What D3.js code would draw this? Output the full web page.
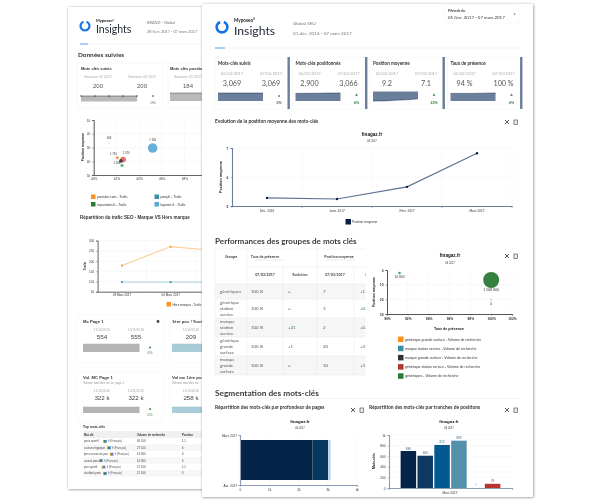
<!DOCTYPE html>
<html>
<head>
<meta charset="utf-8">
<title>Myposeo Insights</title>
<style>
    html, body { margin: 0; padding: 0; background: #fff; }
    svg { display: block; filter: blur(0.4px); }
    text { font-family: "Liberation Sans", sans-serif; fill: #333; }
</style>
</head>
<body>
<svg width="600" height="500"></svg>
<script src="https://d3js.org/d3.v7.min.js"></script>
<script>
// front page - kpi cards
const kpiTitles = ['Mots-clés suivis', 'Mots-clés positionnés', 'Position moyenne', 'Taux de présence'];
const kpiDates = ['05/02/2017', '07/03/2017'];
const kpiFirst = ['3,069', '2,900', '9.2', '94 %'];
const kpiLast = ['3,069', '3,066', '7.1', '100 %'];
const kpiDelta = ['0%', '6%', '23%', '6%'];
const kpiSpark = [
    [3069, 3069, 3069, 3069, 3069],
    [2900, 2930, 2980, 3040, 3066],
    [9.2, 9.1, 8.4, 8.0, 7.1],
    [94, 95, 95, 98, 100]
];
// front page - average position line
const lineMonths = ['Déc. 2016', 'Janv. 2017', 'Févr. 2017', 'Mars 2017'];
const linePosition = [5.28, 5.24, 5.66, 6.82];
const lineTicks = [5, 6, 7];
// front page - groups table
const groupNames = [['génériques'], ['générique', 'station', 'service'], ['marque', 'station', 'service'], ['générique', 'grande', 'surface'], ['marque', 'grande', 'surface']];
const groupPresence = ['100 %', '100 %', '100 %', '100 %', '100 %'];
const groupEvolution = ['=', '=', '+21', '+1', '='];
const groupPosition = ['7', '3', '2', '20', '10'];
const groupPosEvolution = ['+1.2', '+0.5', '+0.3', '+2.1', '+3.4'];
// front page - group bubbles
const bubbleNames = ['générique grande surface - Volume de recherche', 'marque station service - Volume de recherche', 'marque grande surface - Volume de recherche', 'générique station service - Volume de recherche', 'génériques - Volume de recherche'];
const bubbleColors = ['#f7931e', '#3d8fa6', '#333333', '#b5342f', '#2b7a37'];
const bubblePresence = [100, 91.2, 100, 100, 100];
const bubblePosition = [20.4, 2, 7, 7, 6.8];
const bubbleVolume = [0, 10800, 0, 0, 1568800];
const bubbleLabels = ['0', '10 800', '', '', '1 568 800'];
// front page - segmentation
const depthValues = [2480, 530, 90];
const depthColors = ['#06244a', '#07385f', '#b8d8ea'];
const depthTicks = [0, 1000, 2000, 3000, 4000];
const depthTickLabels = ['0', '1k', '2k', '3k', '4k'];
const depthPeriods = ['Mars 2017', 'Avr. 2017'];
const rankNames = ['1', '2-3', '4-5', '6-10', '11-20', '21+'];
const rankValues = [698, 609, 812, 893, 3, 79];
const rankColors = ['#06244a', '#0d3a63', '#03598f', '#5390ac', '#cfdfe9', '#b5342f'];
const rankTicks = [0, 200, 400, 600, 800, 1000];
const rankTickLabels = ['0', '200', '400', '600', '800', '1k'];
// back page - tracked data
const backDates = ['Semaine 05 2017', 'Semaine 09 2017'];
const backKeywords = [200, 200, 200, 200, 200];
const backPositioned = [184, 186, 185, 186, 186];
const backX = [40, 42, 44, 46, 48, 50];
const backY = [10, 20, 30, 40, 50];
const sitePresence = [45.2, 42.6, 42.1, 42.5, 42.4, 41.35];
const sitePosition = [30.4, 38.7, 37.5, 43, 39.8, 27];
const siteTraffic = [7484, 2070, 300, 420, 700, 60];
const siteColors = ['#5aa7d2', '#ee5a5a', '#f7931e', '#4fb06a', '#333333', '#f4e7a8'];
const siteLabels = ['7 484', '2 070', '1 730', '', '1 006', '608'];
const backLegend = ['youtube.com - Trafic', 'jamy.fr - Trafic', 'reparation.fr - Trafic', 'laposte.fr - Trafic'];
const backLegendColors = ['#f7931e', '#3d8fa6', '#2b7a37', '#5aa7d2'];
const trafficDays = ['03 Mars 2017', '04 Mars 2017', '05 Mars 2017'];
const trafficHors = [178, 270, 250];
const trafficMarque = [97, 97, 97];
const trafficTicks = [50, 100, 150, 200, 250, 300];
// back page - top keywords
const topWords = ['paris sportif', 'courses hippique', 'pmu course du jour', 'course pmu', 'pari sportif', 'résultats pmu'];
const topVolumes = ['90 100', '27 100', '14 800', '14 800', '12 100', '12 100'];
const topPositions = ['1.1', '6', '6', '6', '1.1', '6'];

const svg = d3.select('svg');
const defs = svg.append('defs');
const shadow = defs.append('filter').attr('id', 'page').attr('x', '-5%').attr('y', '-5%').attr('width', '110%').attr('height', '110%');
shadow.append('feDropShadow').attr('dx', 0.5).attr('dy', 0.5).attr('stdDeviation', 1.2).attr('flood-color', '#444').attr('flood-opacity', 0.65);

function txt(g, x, y, s, size, o) {
    o = o || {};
    return g.append('text').attr('x', x).attr('y', y).text(s)
        .attr('font-size', size)
        .attr('font-weight', o.w || 400)
        .attr('text-anchor', o.a || 'start')
        .style('fill', o.c || '#333')
        .style('font-family', o.f || null);
}
function box(g, x, y, w, h, fill, stroke) {
    return g.append('rect').attr('x', x).attr('y', y).attr('width', w).attr('height', h)
        .attr('fill', fill).attr('stroke', stroke || 'none').attr('stroke-width', 0.5);
}
function logo(g, cx, cy, r) {
    const arc = d3.arc().innerRadius(r * 0.68).outerRadius(r * 1.12);
    g.append('path').attr('transform', `translate(${cx},${cy})`)
        .attr('d', arc({ startAngle: 0.35, endAngle: 2 * Math.PI - 0.35 })).attr('fill', '#1273e6');
}
function icons(g, x, y) {
    g.append('path').attr('d', `M${x - 2},${y - 2}L${x + 2},${y + 2}M${x + 2},${y - 2}L${x - 2},${y + 2}`)
        .attr('stroke', '#444').attr('stroke-width', 0.9);
    g.append('rect').attr('x', x + 7).attr('y', y - 2).attr('width', 3.4).attr('height', 4.4)
        .attr('fill', '#eee').attr('stroke', '#555').attr('stroke-width', 0.7);
}
function spark(g, values, x0, x1, top, bottom, invert, fill, line) {
    const x = d3.scaleLinear().domain([0, values.length - 1]).range([x0, x1]);
    const y = d3.scaleLinear().domain([0, d3.max(values)]).range(invert ? [top, bottom] : [bottom, top]);
    const area = d3.area().x((d, i) => x(i)).y0(y(0)).y1(d => y(d));
    g.append('path').attr('d', area(values)).attr('fill', fill);
    g.append('path').attr('d', d3.line().x((d, i) => x(i)).y(d => y(d))(values))
        .attr('fill', 'none').attr('stroke', line).attr('stroke-width', 0.5);
    return { x, y };
}
function styleAxis(g, size, color, weight, lineWidth) {
    g.attr('class', 'axis');
    g.selectAll('text').attr('font-size', size).style('fill', '#333').attr('font-weight', weight || 400);
    g.selectAll('path').attr('stroke', color).attr('stroke-width', lineWidth || 1);
    g.selectAll('line').attr('stroke', color).attr('stroke-width', 0.5);
}
function grid(g, xs, ys, x0, x1, y0, y1) {
    xs.forEach(x => g.append('line').attr('x1', x).attr('x2', x).attr('y1', y0).attr('y2', y1).attr('stroke', '#eef0f3').attr('stroke-width', 0.5));
    ys.forEach(y => g.append('line').attr('y1', y).attr('y2', y).attr('x1', x0).attr('x2', x1).attr('stroke', '#eef0f3').attr('stroke-width', 0.5));
}

// ---------- back page ----------
const back = svg.append('g').attr('class', 'back');
box(back, 68, 7, 170, 482, '#fff').attr('filter', 'url(#page)');
logo(back, 85, 26, 5);
txt(back, 96, 22, 'Myposeo°', 4, { w: 700, f: 'Lato', c: '#222' });
txt(back, 96, 33, 'Insights', 10.5, { f: 'Lato', c: '#1c2430' });
txt(back, 147, 24, 'BRAND - Global', 3.9, { c: '#777', f: 'Lato' });
txt(back, 147, 33, '28 févr. 2017 - 07 mars 2017', 3.9, { c: '#777', f: 'Lato' });
back.append('line').attr('x1', 80).attr('x2', 205).attr('y1', 44).attr('y2', 44).attr('stroke', '#eee').attr('stroke-width', 0.7);
back.append('line').attr('x1', 80).attr('x2', 88).attr('y1', 44).attr('y2', 44).attr('stroke', '#5fa0ee').attr('stroke-width', 1);
txt(back, 78, 57, 'Données suivies', 6.4, { w: 700, f: 'Lato', c: '#333' });

box(back, 77, 63, 86, 45, '#fff', '#f0f0f0');
box(back, 168, 63, 40, 45, '#fff', '#f0f0f0');
txt(back, 81, 70, 'Mots clés suivis', 4, { w: 700 });
txt(back, 170, 70, 'Mots clés positionnés', 4, { w: 700 });
txt(back, 98, 78, backDates[0], 3.6, { a: 'middle', c: '#aaa' });
txt(back, 142, 78, backDates[1], 3.6, { a: 'middle', c: '#aaa' });
txt(back, 188, 78, backDates[0], 3.6, { a: 'middle', c: '#aaa' });
txt(back, 98, 88, '200', 6, { a: 'middle', c: '#555' });
txt(back, 142, 88, '200', 6, { a: 'middle', c: '#555' });
txt(back, 188, 88, '184', 6, { a: 'middle', c: '#555' });
const bk1 = spark(back, backKeywords, 81, 137, 96, 101.5, false, '#b9b9b9', '#333');
back.selectAll('.d1').data(backKeywords).enter().append('circle')
    .attr('cx', (d, i) => bk1.x(i)).attr('cy', d => bk1.y(d)).attr('r', 0.7).attr('fill', '#333');
spark(back, backPositioned, 170, 228, 93, 101, false, '#b9b9b9', '#444');
txt(back, 153, 97, '=', 3.6, { a: 'middle', w: 700 });
txt(back, 153, 104, '0%', 3.6, { a: 'middle', c: '#555' });

// site bubbles
const sx = d3.scaleLinear().domain([40, 50]).range([93.7, 207]);
const sy = d3.scaleLinear().domain([10, 50]).range([120, 175]);
const sr = d3.scaleSqrt().domain([0, 7484]).range([0.6, 4.8]);
grid(back, backX.map(sx), backY.map(sy), 93.7, 207, 120, 175);
const sax = back.append('g').attr('transform', 'translate(0,175)')
    .call(d3.axisBottom(sx).tickValues(backX).tickFormat(d => d + '%').tickSize(0).tickPadding(2.5));
styleAxis(sax, 3.2, '#666');
const say = back.append('g').attr('transform', 'translate(93.7,0)')
    .call(d3.axisLeft(sy).tickValues(backY).tickSize(1.5).tickPadding(2));
styleAxis(say, 3.2, '#555');
txt(back, 0, 0, 'Position moyenne', 3.3, { a: 'middle', w: 700 }).attr('transform', 'translate(83.5,147) rotate(-90)');
back.selectAll('.site').data(siteTraffic).enter().append('circle')
    .attr('cx', (d, i) => sx(sitePresence[i])).attr('cy', (d, i) => sy(sitePosition[i]))
    .attr('r', d => sr(d)).attr('fill', (d, i) => siteColors[i]).attr('opacity', 0.9);
siteLabels.forEach((s, i) => {
    const off = [-7, -5, -3, 0, 3, -4][i];
    const dx = [0, 3, -4, 0, -4, 0][i];
    txt(back, sx(sitePresence[i]) + dx, sy(sitePosition[i]) + off, s, 2.8, { a: 'middle', c: '#444' });
});
backLegend.forEach((s, i) => {
    const lx = i % 2 ? 154.5 : 91;
    const ly = i < 2 ? 194.5 : 202;
    box(back, lx, ly, 4.5, 4.5, backLegendColors[i]);
    txt(back, lx + 6, ly + 3.6, s, 3.4, { c: '#333' });
});
txt(back, 80, 219, 'Répartition du trafic SEO - Marque VS Hors marque', 4.5, { w: 700, c: '#333' });

// traffic lines
const tx = d3.scaleBand().domain(trafficDays).range([97.6, 243.7]);
const ty = d3.scaleLinear().domain([50, 300]).range([291.7, 240.6]);
grid(back, [tx.step() + 97.6, 2 * tx.step() + 97.6], trafficTicks.map(ty), 97.6, 238, 240.6, 291.7);
const tax = back.append('g').attr('transform', 'translate(0,291.7)').call(d3.axisBottom(tx).tickSize(0).tickPadding(2.5));
styleAxis(tax, 3, '#666');
const tay = back.append('g').attr('transform', 'translate(97.6,0)')
    .call(d3.axisLeft(ty).tickValues(trafficTicks).tickSize(1.5).tickPadding(2));
styleAxis(tay, 3, '#666');
txt(back, 0, 0, 'Trafic', 3.3, { a: 'middle', w: 700 }).attr('transform', 'translate(85.5,266) rotate(-90)');
[[trafficHors, '#fbd3a0', '#f7931e'], [trafficMarque, '#bcd8e0', '#3d8fa6']].forEach(s => {
    const ln = d3.line().x((d, i) => tx(trafficDays[i]) + tx.bandwidth() / 2).y(d => ty(d));
    back.append('path').attr('d', ln(s[0])).attr('fill', 'none').attr('stroke', s[1]).attr('stroke-width', 1.2);
    s[0].forEach((d, i) => box(back, tx(trafficDays[i]) + tx.bandwidth() / 2 - 0.9, ty(d) - 0.9, 1.8, 1.8, s[2]));
});
box(back, 166.5, 302, 4.5, 4.5, '#f7931e');
txt(back, 172.5, 305.6, 'Hors marque - Trafic', 3.2);

// lower cards
box(back, 77, 315, 86, 48, '#fff', '#f3f3f3');
box(back, 170, 315, 40, 48, '#fff', '#f3f3f3');
box(back, 77, 372, 86, 51, '#fff', '#f3f3f3');
box(back, 170, 372, 40, 51, '#fff', '#f3f3f3');
txt(back, 83, 323, 'Mc Page 1', 4.2, { w: 700 });
back.append('circle').attr('cx', 158).attr('cy', 321.5).attr('r', 1.4).attr('fill', '#444');
txt(back, 172, 323, '1ère pos ! Yooth', 4.2, { w: 700 });
txt(back, 102, 331, '11/10/2016', 3.3, { a: 'middle', c: '#aaa' });
txt(back, 136, 331, '10/11/2016', 3.3, { a: 'middle', c: '#aaa' });
txt(back, 191, 331, '11/10/2016', 3.3, { a: 'middle', c: '#aaa' });
txt(back, 102, 339, '554', 6.2, { a: 'middle', c: '#444' });
txt(back, 136, 339, '555', 6.2, { a: 'middle', c: '#444' });
txt(back, 191, 339, '209', 6.2, { a: 'middle', c: '#444' });
spark(back, [554, 555], 83, 139.5, 344, 352, false, '#b4b4b4', '#aaa');
spark(back, [209, 209], 172, 228, 344, 352, false, '#a8ccd8', '#9bc0cd');
back.append('path').attr('d', d3.symbol(d3.symbolTriangle, 3)()).attr('transform', 'translate(150,347.5)').attr('fill', '#2b7a37');
txt(back, 150, 354, '0%', 3.3, { a: 'middle', c: '#2b7a37' });
txt(back, 83, 379, 'Vol. MC Page 1', 4.2, { w: 700 });
txt(back, 83, 384, 'Volume total des mc en page 1', 3, { c: '#999' });
txt(back, 172, 379, 'Vol mc 1ère pos', 4.2, { w: 700 });
txt(back, 172, 384, 'Volume total des mc', 3, { c: '#999' });
txt(back, 102, 392, '11/10/2016', 3.3, { a: 'middle', c: '#aaa' });
txt(back, 136, 392, '10/11/2016', 3.3, { a: 'middle', c: '#aaa' });
txt(back, 191, 392, '11/10/2016', 3.3, { a: 'middle', c: '#aaa' });
txt(back, 102, 400, '322 k', 6.2, { a: 'middle', c: '#444' });
txt(back, 136, 400, '322 k', 6.2, { a: 'middle', c: '#444' });
txt(back, 191, 400, '258 k', 6.2, { a: 'middle', c: '#444' });
spark(back, [322, 322], 83, 139.5, 407, 413, false, '#b4b4b4', '#aaa');
spark(back, [258, 258], 172, 228, 407, 413, false, '#a8ccd8', '#9bc0cd');
back.append('path').attr('d', d3.symbol(d3.symbolTriangle, 3)()).attr('transform', 'translate(150,409)').attr('fill', '#2b7a37');
txt(back, 150, 415.5, '0%', 3.3, { a: 'middle', c: '#2b7a37' });

// top keywords
txt(back, 83, 428, 'Top mots-clés', 3.3, { w: 700 });
box(back, 83, 431, 122, 7, '#f0f0f0');
txt(back, 84, 436, 'Mot clé', 2.8, { w: 700 });
txt(back, 137, 436, 'Volume de recherche', 2.8, { w: 700 });
txt(back, 182, 436, 'Position', 2.8, { w: 700 });
const topY = d3.scaleBand().domain(topWords).range([438, 476.5]);
topWords.forEach((s, i) => {
    const y = topY(s);
    if (i % 2) box(back, 83, y, 122, topY.bandwidth(), '#f6f6f6');
    txt(back, 84, y + 4.4, s, 2.8, { c: '#444' });
    const w = s.length * 1.35 + 85.5;
    ['#f7931e', '#2b7a37', '#b5342f', '#1273e6'].forEach((c, k) => box(back, w + k * 0.9, y + 2, 0.9, 2.8, c));
    txt(back, w + 5, y + 4.4, 'fr (Français)', 2.6, { c: '#555' });
    txt(back, 137, y + 4.4, topVolumes[i], 2.8, { c: '#444' });
    txt(back, 182, y + 4.4, topPositions[i], 2.8, { c: '#444' });
});

// ---------- front page ----------
const front = svg.append('g').attr('class', 'front');
box(front, 202, 4, 331, 493, '#fff').attr('filter', 'url(#page)');
logo(front, 222, 27, 6);
txt(front, 234, 22, 'Myposeo°', 4.6, { w: 700, f: 'Lato', c: '#222' });
txt(front, 234, 35, 'Insights', 12.2, { f: 'Lato', c: '#1c2430' });
txt(front, 293, 24.5, 'Global SEO', 4.6, { f: 'Lato', c: '#777' });
txt(front, 293, 35, '01 déc. 2016 - 07 mars 2017', 4.6, { f: 'Lato', c: '#777' });
box(front, 445, 5, 74, 18, '#fff', '#f2f2f2');
txt(front, 448, 12, 'Période du', 3.6, { w: 700, f: 'Lato', c: '#444' });
txt(front, 448, 18.5, '05 févr. 2017 - 07 mars 2017', 4.4, { f: 'Lato', c: '#333' });
front.append('path').attr('d', d3.symbol(d3.symbolTriangle, 2)()).attr('transform', 'translate(514.5,14) rotate(180)').attr('fill', '#666');
front.append('line').attr('x1', 215).attr('x2', 520).attr('y1', 48).attr('y2', 48).attr('stroke', '#eee').attr('stroke-width', 0.7);
front.append('line').attr('x1', 215).attr('x2', 225).attr('y1', 48).attr('y2', 48).attr('stroke', '#5fa0ee').attr('stroke-width', 1);

const cardX = d3.scaleBand().domain(kpiTitles).range([215, 523.5]).paddingInner(0.02);
kpiTitles.forEach((t, i) => {
    const x = cardX(t);
    box(front, x, 57, 72.5, 52, '#fff', '#f2f2f2');
    box(front, x + 72.5, 57, 2.4, 52, '#6b7f9c');
    txt(front, x + 3, 65, t, 4.6, { w: 700, f: 'Lato', c: '#333' });
    txt(front, x + 17, 74.5, kpiDates[0], 4, { a: 'middle', f: 'Lato', c: '#aaa' });
    txt(front, x + 56, 74.5, kpiDates[1], 4, { a: 'middle', f: 'Lato', c: '#aaa' });
    txt(front, x + 17, 85.5, kpiFirst[i], 7.2, { a: 'middle', f: 'Lato', c: '#555' });
    txt(front, x + 56, 85.5, kpiLast[i], 7.2, { a: 'middle', f: 'Lato', c: '#555' });
    spark(front, kpiSpark[i], x + 3, x + 48, i === 2 ? 91.5 : 93, 101, i === 2, '#6b7f9c', '#1d2f4d');
    const good = i > 0;
    if (good) front.append('path').attr('d', d3.symbol(d3.symbolTriangle, 3)()).attr('transform', `translate(${x + 64},95)`).attr('fill', '#2b7a37');
    else txt(front, x + 64, 96.5, '=', 3.8, { a: 'middle', w: 700 });
    txt(front, x + 64, 104, kpiDelta[i], 3.6, { a: 'middle', w: 700, c: good ? '#2b7a37' : '#555' });
});

// average position line
txt(front, 215, 123, 'Evolution de la position moyenne des mots-clés', 4.9, { w: 700, f: 'Lato', c: '#333' });
icons(front, 507, 122);
txt(front, 372, 136, 'finagaz.fr', 4.6, { a: 'middle', w: 700, c: '#111' });
txt(front, 372, 142, '06 2017', 2.6, { a: 'middle', c: '#333' });
const lx = d3.scaleBand().domain(lineMonths).range([232, 512]);
const ly = d3.scaleLinear().domain([5, 7]).range([206, 148]);
const lineEdges = d3.range(lineMonths.length + 1).map(i => 232 + i * lx.step());
grid(front, lineEdges.slice(1), lineTicks.map(ly), 232, 512, 148, 206);
const lax = front.append('g').attr('transform', 'translate(0,206)').call(d3.axisBottom(lx).tickSize(0).tickPadding(3.5));
styleAxis(lax, 3.2, '#6b7f9c', 400, 1.1);
lineEdges.forEach(x => front.append('line').attr('x1', x).attr('x2', x).attr('y1', 206).attr('y2', 208).attr('stroke', '#6b7f9c').attr('stroke-width', 0.6));
const lay = front.append('g').attr('transform', 'translate(232,0)').call(d3.axisLeft(ly).tickValues(lineTicks).tickSize(1.5).tickPadding(2).tickFormat(d3.format('d')));
styleAxis(lay, 3.4, '#6b7f9c', 700, 1.1);
txt(front, 0, 0, 'Position moyenne', 3.7, { a: 'middle', w: 700, c: '#222' }).attr('transform', 'translate(222,177) rotate(-90)');
const posLine = d3.line().x((d, i) => lx(lineMonths[i]) + lx.bandwidth() / 2).y(d => ly(d));
front.append('path').attr('d', posLine(linePosition)).attr('fill', 'none').attr('stroke', '#5d7393').attr('stroke-width', 1.1);
front.selectAll('.lp').data(linePosition).enter().append('circle')
    .attr('cx', (d, i) => lx(lineMonths[i]) + lx.bandwidth() / 2).attr('cy', d => ly(d)).attr('r', 1.2).attr('fill', '#0b1f44');
box(front, 345.5, 219, 5.5, 5.5, '#0b1f44');
txt(front, 352, 223, 'Position moyenne', 3.2, { c: '#333' });

// groups table
txt(front, 215, 244, 'Performances des groupes de mots clés', 8.1, { w: 700, f: 'Lato', c: '#3a3a3a' });
defs.append('clipPath').attr('id', 'tableClip').append('rect').attr('x', 214).attr('y', 245).attr('width', 151.5).attr('height', 135);
const table = front.append('g').attr('clip-path', 'url(#tableClip)');
const colX = [215, 247, 283, 317, 354, 390];
const rowY = [284, 299, 318, 337, 356, 375];
groupNames.forEach((n, i) => {
    if (i % 2 === 0) box(table, 215, rowY[i], 180, rowY[i + 1] - rowY[i], '#f6f6f6');
    const mid = (rowY[i] + rowY[i + 1]) / 2;
    n.forEach((s, k) => txt(table, 220, mid + 1.5 + (k - (n.length - 1) / 2) * 6.1, s, 4.4, { c: '#555', f: 'Lato' }));
    txt(table, 251, mid + 1.5, groupPresence[i], 4.4, { c: '#555', f: 'Lato' });
    txt(table, 288, mid + 1.5, groupEvolution[i], 4.4, { c: groupEvolution[i] === '=' ? '#555' : '#2b7a37', f: 'Lato' });
    txt(table, 323, mid + 1.5, groupPosition[i], 4.4, { c: '#555', f: 'Lato' });
    txt(table, 360, mid + 1.5, groupPosEvolution[i], 4.4, { c: '#2b7a37', f: 'Lato' });
});
[249, 267, 284].concat(rowY.slice(1)).forEach(y => table.append('line').attr('x1', y === 267 ? 247 : 215).attr('x2', 395).attr('y1', y).attr('y2', y).attr('stroke', '#ececec').attr('stroke-width', 0.6));
colX.slice(0, 5).forEach((x, i) => table.append('line').attr('x1', x).attr('x2', x).attr('y1', (i === 2 || i === 4) ? 267 : 249).attr('y2', 375).attr('stroke', '#ececec').attr('stroke-width', 0.6));
txt(table, 231, 258, 'Groupe', 3.7, { a: 'middle', w: 700, c: '#444', f: 'Lato' });
txt(table, 265, 258, 'Taux de présence', 3.7, { a: 'middle', w: 700, c: '#444', f: 'Lato' });
table.append('line').attr('x1', 255).attr('x2', 285).attr('y1', 260).attr('y2', 260).attr('stroke', '#ccc').attr('stroke-width', 0.4);
txt(table, 339, 258, 'Position moyenne', 3.7, { a: 'middle', w: 700, c: '#444', f: 'Lato' });
table.append('line').attr('x1', 325).attr('x2', 355).attr('y1', 260).attr('y2', 260).attr('stroke', '#ccc').attr('stroke-width', 0.4);
txt(table, 265, 275.5, '07/03/2017', 3.5, { a: 'middle', w: 700, c: '#444', f: 'Lato' });
txt(table, 300, 275.5, 'Evolution', 3.5, { a: 'middle', w: 700, c: '#444', f: 'Lato' });
txt(table, 335, 275.5, '07/03/2017', 3.5, { a: 'middle', w: 700, c: '#444', f: 'Lato' });
txt(table, 365, 275.5, 'Evolution', 3.5, { w: 700, c: '#444', f: 'Lato' });

// group bubbles
txt(front, 450, 257, 'finagaz.fr', 4.6, { a: 'middle', w: 700, c: '#111' });
txt(front, 450, 263.5, '06 2017', 2.6, { a: 'middle', c: '#333' });
icons(front, 507, 256);
const bx = d3.scaleLinear().domain([90, 102]).range([387, 512]);
const by = d3.scaleLinear().domain([0, 30]).range([270, 314]);
const br = d3.scaleSqrt().domain([0, 1568800]).range([0.7, 8]);
grid(front, d3.range(92, 103, 2).map(bx), [10, 20].map(by), 387, 512, 270, 314);
const bax = front.append('g').attr('transform', 'translate(0,314)')
    .call(d3.axisBottom(bx).tickValues(d3.range(90, 103, 2)).tickFormat(d => d + '%').tickSize(1.5).tickPadding(2.5));
styleAxis(bax, 3.3, '#555', 700);
const bay = front.append('g').attr('transform', 'translate(387,0)')
    .call(d3.axisLeft(by).tickValues([0, 10, 20, 30]).tickSize(1.5).tickPadding(2));
styleAxis(bay, 3.3, '#555', 700);
txt(front, 0, 0, 'Position moyenne', 3.5, { a: 'middle', w: 700, c: '#222' }).attr('transform', 'translate(375,292) rotate(-90)');
txt(front, 449, 330, 'Taux de présence', 3.6, { a: 'middle', w: 700, c: '#222' });
[0, 1, 4].forEach(i => {
    front.append('circle').attr('cx', bx(bubblePresence[i])).attr('cy', by(bubblePosition[i]))
        .attr('r', br(bubbleVolume[i])).attr('fill', bubbleColors[i]).attr('opacity', 0.95);
});
txt(front, bx(bubblePresence[0]), by(bubblePosition[0]) + 4.8, bubbleLabels[0], 3.3, { a: 'middle', c: '#333' });
txt(front, bx(bubblePresence[1]), by(bubblePosition[1]) + 4.8, bubbleLabels[1], 3.3, { a: 'middle', c: '#333' });
txt(front, bx(bubblePresence[4]), by(bubblePosition[4]) + 10.8, bubbleLabels[4], 3.6, { a: 'middle', c: '#333' });
bubbleNames.forEach((s, i) => {
    const y = 336.5 + i * 9.2;
    box(front, 398, y, 5.5, 5.5, bubbleColors[i]);
    txt(front, 405, y + 4, s, 3.5, { c: '#333' });
});

// segmentation
txt(front, 215, 396, 'Segmentation des mots-clés', 8.3, { w: 700, f: 'Lato', c: '#3a3a3a' });
front.append('line').attr('x1', 215).attr('x2', 520).attr('y1', 398.5).attr('y2', 398.5).attr('stroke', '#eee').attr('stroke-width', 0.7);
txt(front, 215, 409, 'Répartition des mots-clés par profondeur de pages', 4.9, { w: 700, f: 'Lato', c: '#333' });
txt(front, 369, 409, 'Répartition des mots-clés par tranches de positions', 4.9, { w: 700, f: 'Lato', c: '#333' });
icons(front, 353, 410);
icons(front, 507, 410);
txt(front, 300, 423, 'finagaz.fr', 4.4, { a: 'middle', w: 700, c: '#111' });
txt(front, 300, 428.5, '06 2017', 2.6, { a: 'middle', c: '#333' });
txt(front, 449, 423, 'finagaz.fr', 4.4, { a: 'middle', w: 700, c: '#111' });
txt(front, 449, 428.5, '06 2017', 2.6, { a: 'middle', c: '#333' });

const dx = d3.scaleLinear().domain([0, 4000]).range([240, 357]);
const dy = d3.scalePoint().domain(depthPeriods).range([435, 485]);
grid(front, depthTicks.slice(1).map(dx), [], 240, 357, 435, 485);
let depthStart = 0;
depthValues.forEach((v, i) => {
    box(front, dx(depthStart), dy(depthPeriods[0]) + 5, dx(depthStart + v) - dx(depthStart), dy(depthPeriods[1]) - dy(depthPeriods[0]) - 10, depthColors[i]);
    depthStart += v;
});
const dax = front.append('g').attr('transform', 'translate(0,485)')
    .call(d3.axisBottom(dx).tickValues(depthTicks).tickFormat((d, i) => depthTickLabels[i]).tickSize(1.5).tickPadding(2.5));
styleAxis(dax, 3.2, '#8d9db5', 400, 1.1);
const day = front.append('g').attr('transform', 'translate(240,0)').call(d3.axisLeft(dy).tickSize(1.5).tickPadding(1.5));
styleAxis(day, 3.2, '#8d9db5', 400, 1.1);

const rx = d3.scaleBand().domain(rankNames).range([389, 512]).paddingInner(0.08).paddingOuter(0.69);
const ry = d3.scaleLinear().domain([0, 1000]).range([488, 435]);
grid(front, [], rankTicks.slice(1).map(ry), 389, 512, 435, 488);
front.selectAll('.rank').data(rankValues).enter().append('rect')
    .attr('x', (d, i) => rx(rankNames[i])).attr('width', rx.bandwidth())
    .attr('y', d => ry(d)).attr('height', d => ry(0) - ry(d))
    .attr('fill', (d, i) => rankColors[i]);
front.selectAll('.rl').data(rankValues).enter().append('text')
    .attr('x', (d, i) => rx(rankNames[i]) + rx.bandwidth() / 2).attr('y', d => ry(d) - 1.5)
    .attr('text-anchor', 'middle').attr('font-size', 3)
    .style('fill', (d, i) => i === 5 ? '#b5342f' : (i === 4 ? '#9cc0d4' : '#35607f')).text(d => d);
const rax = front.append('g').attr('transform', 'translate(0,488)')
    .call(d3.axisBottom(d3.scaleLinear().domain([0, 1]).range([389, 512])).tickValues([0, 1]).tickFormat('').tickSize(1.5));
styleAxis(rax, 3, '#8d9db5', 400, 1.1);
const ray = front.append('g').attr('transform', 'translate(389,0)')
    .call(d3.axisLeft(ry).tickValues(rankTicks).tickFormat((d, i) => rankTickLabels[i]).tickSize(1.5).tickPadding(2));
styleAxis(ray, 3.2, '#8d9db5', 400, 1.1);
txt(front, 0, 0, 'Mots-clés', 3.5, { a: 'middle', w: 700, c: '#222' }).attr('transform', 'translate(375,461) rotate(-90)');
txt(front, 450, 494, 'Mars 2017', 3.2, { a: 'middle', c: '#333' });
</script>
</body>
</html>
